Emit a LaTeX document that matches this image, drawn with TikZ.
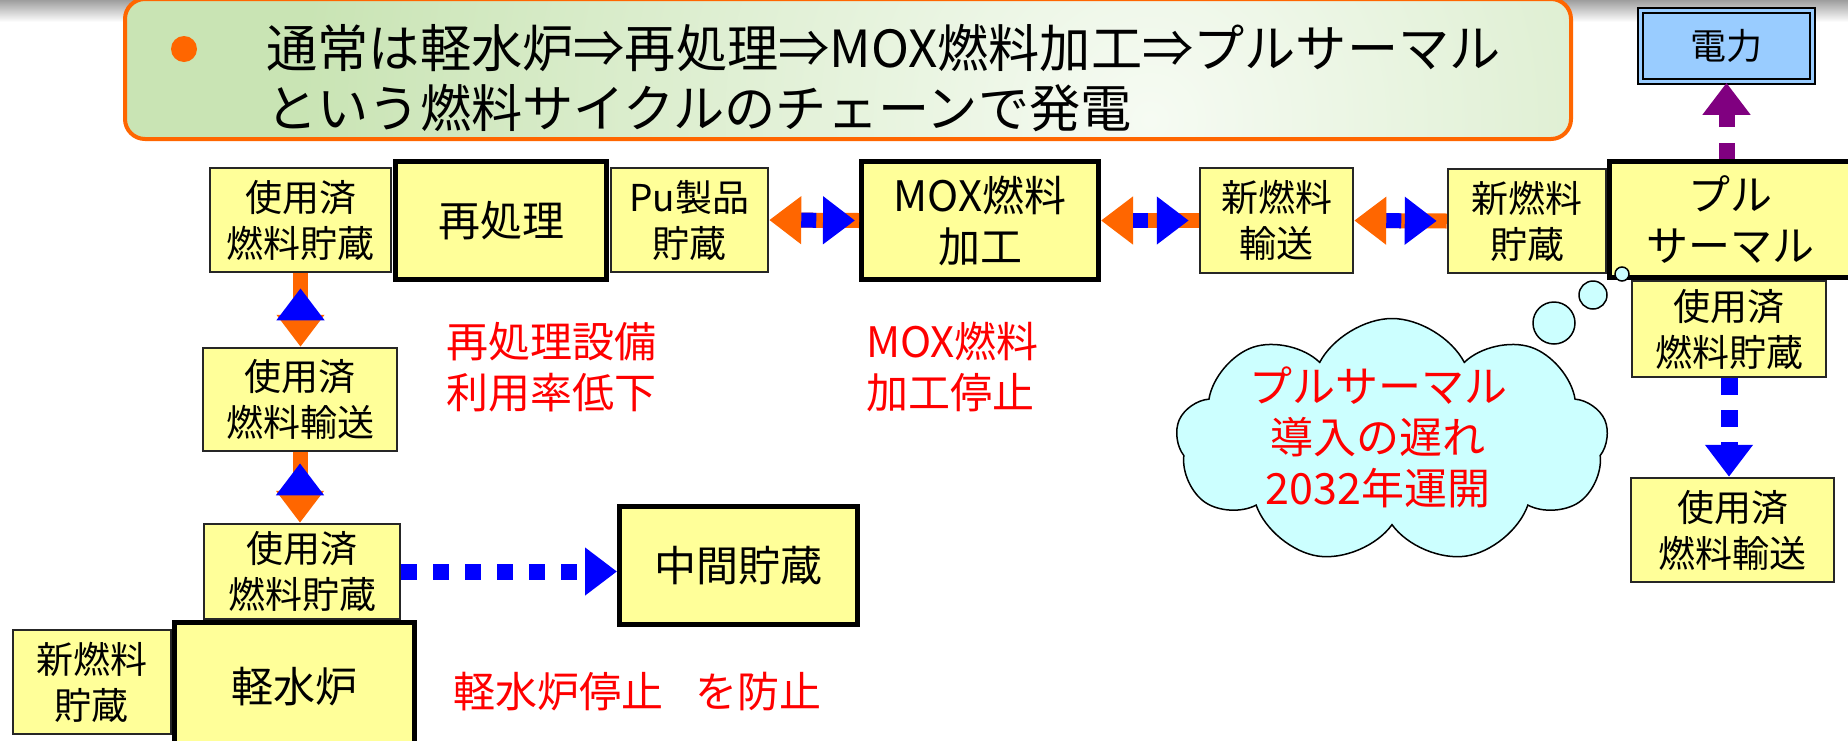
\documentclass[tikz,border=0pt]{standalone}
\usepackage{fontspec}
\setmainfont{Noto Sans CJK JP}
\usetikzlibrary{arrows.meta,shapes.symbols}
\newdimen\pxu \pxu=0.5pt
\definecolor{boxyellow}{HTML}{FFFF99}
\definecolor{arrorange}{HTML}{FF6600}
\definecolor{arrblue}{HTML}{0000FF}
\definecolor{arrpurple}{HTML}{800080}
\definecolor{cloudcyan}{HTML}{CCFFFF}
\definecolor{powerblue}{HTML}{99CCFF}
\definecolor{hdrgreen}{HTML}{C9E4B4}
\definecolor{hdrlight}{HTML}{F6FBF3}
\definecolor{textred}{HTML}{FF0000}
\tikzset{
 thinbox/.style={draw=black!85, line width=1.25pt, fill=boxyellow, inner sep=0pt, align=center, font=\fontsize{18.5pt}{23pt}\selectfont},
 thickbox/.style={draw=black, line width=2.5pt, fill=boxyellow, inner sep=0pt, align=center, font=\fontsize{21pt}{25.5pt}\selectfont},
 redlabel/.style={text=textred, inner sep=0pt, align=left, anchor=west, font=\fontsize{21pt}{25.5pt}\selectfont},
 headtip/.style={-{Triangle[length=16pt,width=23pt]}},
 oarrow/.style={draw=arrorange, line width=7.5pt, headtip},
 barrow/.style={draw=arrblue, line width=7.5pt, dash pattern=on 7.5pt off 7.5pt, headtip},
 bdot/.style={draw=arrblue, line width=8pt, dash pattern=on 8pt off 8pt, headtip},
 bdash/.style={draw=arrblue, line width=8.5pt, dash pattern=on 8.5pt off 7.5pt, headtip},
 pdash/.style={draw=arrpurple, line width=8pt, dash pattern=on 8pt off 8pt, headtip},
 bubble/.style={circle, draw=black, line width=0.75pt, fill=cloudcyan, inner sep=0pt},
}
\begin{document}
\begin{tikzpicture}[x=0.5pt, y=-0.5pt]
\clip (0,0) rectangle (1848,740);
\fill[white] (0,0) rectangle (1848,740);
% top grey fade
\shade[top color=black!38, bottom color=white] (0,0) rectangle (1848,22);
% header
\fill[hdrgreen, rounded corners=10pt] (125,-1) rectangle (1571,139);
\begin{scope}
 \clip[rounded corners=10pt] (125,-1) rectangle (1571,139);
 \shade[inner color=hdrlight, outer color=hdrgreen] (1150,120) circle (850\pxu);
\end{scope}
\draw[arrorange, line width=2pt, rounded corners=10pt] (125,-1) rectangle (1571,139);
\node[circle, fill=arrorange, minimum size=26\pxu, inner sep=0pt] (bullet) at (184,49) {};
\node[anchor=west, inner sep=0pt, align=left, font=\fontsize{25.6pt}{30pt}\selectfont] (hdr) at (266,78)
 {通常は軽水炉⇒再処理⇒MOX燃料加工⇒プルサーマル\\という燃料サイクルのチェーンで発電};

% thin boxes
\node[thinbox, minimum width=181\pxu, minimum height=104\pxu] (spent1) at (300.5,220) {使用済\\燃料貯蔵};
\node[thinbox, minimum width=157\pxu, minimum height=104\pxu] (pu) at (689.5,220) {Pu製品\\貯蔵};
\node[thinbox, minimum width=153\pxu, minimum height=105\pxu] (newtr) at (1276.5,220.5) {新燃料\\輸送};
\node[thinbox, minimum width=158\pxu, minimum height=104\pxu] (newst) at (1527,221) {新燃料\\貯蔵};
\node[thinbox, minimum width=194\pxu, minimum height=96\pxu] (spentR1) at (1729,329) {使用済\\燃料貯蔵};
\node[thinbox, minimum width=203\pxu, minimum height=104\pxu] (spentR2) at (1732.5,530) {使用済\\燃料輸送};
\node[thinbox, minimum width=194\pxu, minimum height=103\pxu] (spentTr) at (300,399.5) {使用済\\燃料輸送};
\node[thinbox, minimum width=196\pxu, minimum height=95\pxu] (spent2) at (302,571.5) {使用済\\燃料貯蔵};
\node[thinbox, minimum width=158\pxu, minimum height=104\pxu] (newL) at (92,682) {新燃料\\貯蔵};

% thick boxes
\node[thickbox, minimum width=211\pxu, minimum height=118\pxu] (reproc) at (501,220.5) {再処理};
\node[thickbox, minimum width=237\pxu, minimum height=118\pxu] (mox) at (980,220.5) {MOX燃料\\加工};
\node[thickbox, minimum width=241\pxu, minimum height=116\pxu] (pluth) at (1730,219.5) {プル\\サーマル};
\node[thickbox, minimum width=240\pxu, minimum height=130\pxu] (lwr) at (294.5,687) {軽水炉};
\node[thickbox, minimum width=238\pxu, minimum height=118\pxu] (interim) at (738.5,565.5) {中間貯蔵};

% power box
\node[draw=black, line width=1.3pt, double=powerblue, double distance=1.2pt, fill=powerblue,
      minimum width=172\pxu, minimum height=71\pxu, inner sep=0pt,
      font=\fontsize{18pt}{22pt}\selectfont] (power) at (1726.5,46) {電力};

% red labels
\node[redlabel] (lab1) at (446,367) {再処理設備\\利用率低下};
\node[redlabel] (lab2) at (866,367) {MOX燃料\\加工停止};
\node[redlabel] (lab3) at (453,692) {軽水炉停止\hspace{16pt}を防止};

% horizontal double arrows
\draw[oarrow] (mox.west) -- (pu.east);
\draw[barrow, shorten <=16pt, shorten >=2pt] (pu.east) -- (mox.west);
\draw[oarrow] (newtr.west) -- (mox.east);
\draw[barrow, shorten <=16pt, shorten >=5pt] (mox.east) -- (newtr.west);
\draw[oarrow] (newst.west) -- (newtr.east);
\draw[barrow, shorten <=16pt, shorten >=5pt] (newtr.east) -- (newst.west);

% vertical double arrows (left)
\draw[oarrow] (spent1.south) -- (spent1.south |- spentTr.north);
\draw[barrow, shorten <=16pt, shorten >=7.5pt] (spent1.south |- spentTr.north) -- (spent1.south);
\draw[oarrow] (spentTr.south) -- (spentTr.south |- spent2.north);
\draw[barrow, shorten <=16pt, shorten >=5.5pt] (spentTr.south |- spent2.north) -- (spentTr.south);

% to interim storage
\draw[bdot] (spent2.east) -- (interim.west |- spent2.east);

% power arrow
\draw[pdash] (power.south |- pluth.north) -- (power.south);

% right vertical arrow
\draw[bdash] (spentR1.south) -- (spentR1.south |- spentR2.north);

% cloud
\node[cloud, cloud puffs=9, cloud puff arc=125, cloud ignores aspect, draw=black, line width=0.75pt,
      fill=cloudcyan, minimum width=432\pxu, minimum height=245\pxu, inner sep=0pt] (cloud) at (1392,441) {};
\node[bubble, minimum size=42\pxu] (bub3) at (1554,323) {};
\node[bubble, minimum size=28\pxu] (bub2) at (1593,295) {};
\node[bubble, minimum size=14\pxu] (bub1) at (1622,274) {};
\node[text=textred, align=center, inner sep=0pt, font=\fontsize{21.5pt}{25.5pt}\selectfont] (cloudtext) at (1378,437)
 {プルサーマル\\導入の遅れ\\2032年運開};
\end{tikzpicture}
\end{document}
